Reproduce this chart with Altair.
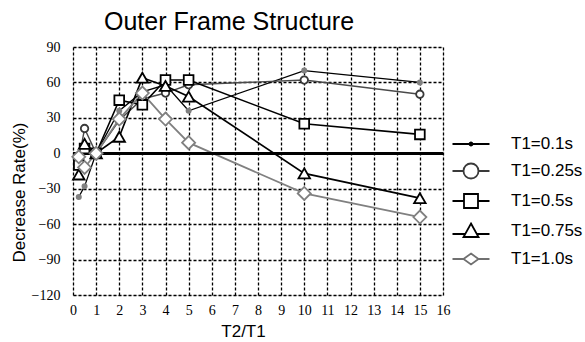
import altair as alt
import pandas as pd

# ---- data ----
series_names = ["T1=0.1s", "T1=0.25s", "T1=0.5s", "T1=0.75s", "T1=1.0s"]
x_vals = [0.25, 0.5, 1, 2, 3, 4, 5, 10, 15]
s_01 = [-37, -28, 0, 36, 52, 58, 36, 70, 60]
s_025 = [-6, 21, 0, 28, 46, 51, 58, 62, 50]
s_05 = [-10, 4, 0, 45, 41, 62, 62, 25, 16]
s_075 = [-18, 8, 0, 14, 64, 57, 48, -17, -38]
s_10 = [-3, -12, 0, 29, 51, 29, 9, -34, -54]
x_ticks = list(range(0, 17))
y_ticks = [-120, -90, -60, -30, 0, 30, 60, 90]

all_vals = [s_01, s_025, s_05, s_075, s_10]
rows = []
for name, vals in zip(series_names, all_vals):
    for i, (x, y) in enumerate(zip(x_vals, vals)):
        rows.append({"series": name, "x": x, "y": y, "order": i})
df = pd.DataFrame(rows)

# ---- styles ----
line_colors = ["#000000", "#4a4a4a", "#000000", "#000000", "#808080"]
marker_stroke = ["#808080", "#3a3a3a", "#000000", "#000000", "#808080"]
marker_fill = ["#808080", "#ffffff", "#ffffff", "#ffffff", "#ffffff"]
legend_stroke = ["#000000", "#3a3a3a", "#000000", "#000000", "#707070"]
line_widths = [1.3, 1.8, 2.0, 2.0, 2.0]
marker_shapes = ["circle", "circle", "square", "triangle-up", "diamond"]
marker_sizes = [18, 170, 190, 150, 120]

legend_paths = [
    "M-1.85,0H1.85M-0.15,0a0.15,0.15 0 1,0 0.3,0a0.15,0.15 0 1,0 -0.3,0",
    "M-1.85,0H-0.75M0.75,0H1.85M-0.75,0a0.75,0.75 0 1,0 1.5,0a0.75,0.75 0 1,0 -1.5,0",
    "M-1.85,0H-0.7M0.7,0H1.85M-0.7,-0.7H0.7V0.7H-0.7Z",
    "M-1.85,0.3H-0.55M0.55,0.3H1.85M0,-0.75L0.75,0.6H-0.75Z",
    "M-1.85,0H-0.75M0.75,0H1.85M0,-0.55L0.75,0L0,0.55L-0.75,0Z",
]

tick_font = "Liberation Sans Narrow"
text_font = "Liberation Sans"

x_scale = alt.Scale(domain=[0, 16], nice=False, zero=False)
y_scale = alt.Scale(domain=[-120, 90], nice=False, zero=False)

x_axis = alt.Axis(
    values=x_ticks, title="T2/T1", grid=True, gridColor="#000000",
    gridDash=[3, 2], gridWidth=1.3, gridOpacity=1, domain=False,
    ticks=False, tickSize=0, labelPadding=8, labelFont=tick_font,
    labelFontSize=14, labelColor="#000000", labelFlush=False,
    labelOverlap=False,
    titleFont=text_font, titleFontSize=17, titleFontWeight="normal",
    titleColor="#000000", titleX=170, titleY=28,
)
y_axis = alt.Axis(
    values=y_ticks, title="Decrease Rate(%)", grid=True,
    gridColor="#000000", gridDash=[3, 2], gridWidth=1.3, gridOpacity=1,
    domain=False, ticks=False, tickSize=0, labelPadding=13,
    labelFont=tick_font, labelFontSize=14, labelColor="#000000",
    labelFlush=False, labelOverlap=False,
    titleFont=text_font, titleFontSize=17,
    titleFontWeight="normal", titleColor="#000000", titleX=-45,
    titleY=145,
)

def xe():
    return alt.X("x:Q", scale=x_scale, axis=x_axis)

def ye():
    return alt.Y("y:Q", scale=y_scale, axis=y_axis)

base = alt.Chart(df)

lines = base.mark_line().encode(
    x=xe(),
    y=ye(),
    color=alt.Color("series:N", scale=alt.Scale(domain=series_names, range=line_colors), legend=None),
    strokeWidth=alt.StrokeWidth("series:N", scale=alt.Scale(domain=series_names, range=line_widths), legend=None),
    order="order:Q",
    detail="series:N",
)

zero_line = base.mark_rule(color="#000000", strokeWidth=2).encode(
    y=alt.YDatum(0, scale=y_scale, axis=y_axis)
)

points = base.mark_point(filled=False, strokeWidth=1.8, opacity=1).encode(
    x=xe(),
    y=ye(),
    shape=alt.Shape("series:N", scale=alt.Scale(domain=series_names, range=marker_shapes), legend=None),
    stroke=alt.Stroke("series:N", scale=alt.Scale(domain=series_names, range=marker_stroke), legend=None),
    fill=alt.Fill("series:N", scale=alt.Scale(domain=series_names, range=marker_fill), legend=None),
    size=alt.Size("series:N", scale=alt.Scale(domain=series_names, range=marker_sizes), legend=None),
)

legend_layer = base.transform_filter("false").mark_point(filled=False, opacity=1).encode(
    x=xe(),
    y=ye(),
    shape=alt.Shape(
        "series:N",
        scale=alt.Scale(domain=series_names, range=legend_paths),
        legend=alt.Legend(
            title=None, orient="none", legendX=387, legendY=86,
            symbolSize=400, symbolStrokeWidth=1.8, symbolFillColor="#ffffff",
            symbolOpacity=1,
            labelFont=text_font, labelFontSize=17, labelColor="#000000",
            labelOffset=29, rowPadding=7, padding=0, labelLimit=200,
        ),
    ),
    color=alt.Color(
        "series:N",
        scale=alt.Scale(domain=series_names, range=legend_stroke),
    ),
)

chart = (
    alt.layer(lines, zero_line, points, legend_layer)
    .resolve_scale(shape="independent", color="independent")
    .properties(
        width=370,
        height=248,
        autosize=alt.AutoSizeParams(type="none"),
        padding={"left": 73, "top": 47, "right": 142, "bottom": 47},
        title=alt.TitleParams(
            "Outer Frame Structure", font=text_font, fontSize=25,
            fontWeight="normal", color="#000000", anchor="middle",
            frame="group", dx=-29, offset=5,
        ),
    )
    .configure_view(stroke="#000000", strokeWidth=2)
    .configure(background="#ffffff")
)

chart.save("out.html", embed_options={"renderer": "svg", "actions": False})
